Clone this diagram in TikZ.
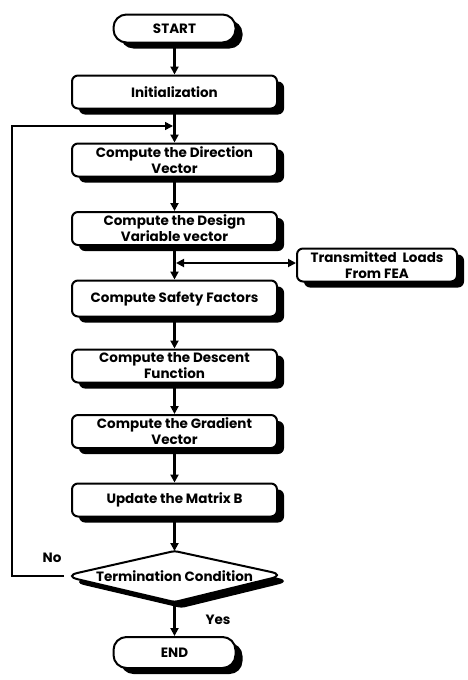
\documentclass[tikz,border=0pt]{standalone}
\usepackage{fontspec}
\setmainfont{Poppins}
\usetikzlibrary{shapes.geometric,shadows,arrows.meta}
\newcommand\fcfont{\fontsize{13.5}{16}\selectfont\bfseries}
\begin{document}
\begin{tikzpicture}[x=1pt,y=-1pt,
  shad/.style={drop shadow={shadow xshift=7pt, shadow yshift=-6pt, opacity=1, fill=black}},
  box/.style={draw, line width=2pt, rounded corners=6pt, fill=white, shad,
    minimum width=205pt, minimum height=33pt, align=center, font=\fcfont, inner sep=1pt},
  term/.style={box, minimum width=122pt, minimum height=28pt, rounded corners=13pt},
  decline/.style={draw, line width=2pt, fill=white, shad},
  arr/.style={-{Triangle[length=8pt,width=8pt]}, line width=2.4pt},
  loop/.style={-{Triangle[length=8pt,width=8pt]}, line width=1.6pt},
  lbl/.style={font=\fcfont}
]
\useasboundingbox (0,0) rectangle (467,680);
\node[term] (start) at (174.5,28.5) {START};
\node[box] (init) at (174.5,92) {Initialization};
\node[box] (dir) at (174.5,160) {Compute the Direction\\Vector};
\node[box] (des) at (174.5,228.5) {Compute the Design\\Variable vector};
\node[box, minimum width=160pt] (trans) at (377,265) {Transmitted~ Loads\\From FEA};
\node[box, minimum height=36pt] (saf) at (174.5,298.5) {Compute Safety Factors};
\node[box] (desc) at (174.5,366) {Compute the Descent\\Function};
\node[box] (grad) at (174.5,431.5) {Compute the Gradient\\Vector};
\node[box] (upd) at (174.5,500) {Update the Matrix B};
% decision shape
\coordinate (ttop) at (174.5,551);
\coordinate (tleft) at (64,576);
\coordinate (tright) at (285,575);
\coordinate (tbot) at (174.5,602);
\path[decline] (tleft) [rounded corners=3pt] -- (ttop) [rounded corners=14pt] -- (tright) [rounded corners=3pt] -- (tbot) [rounded corners=14pt] -- cycle;
\node[font=\fcfont, inner sep=0pt] (term) at (174.5,576) {Termination Condition};
\node[term, minimum height=31pt] (end) at (174.5,652.5) {END};
\coordinate (loopin) at (173,126);
\coordinate (tj) at (176,263);
\node[lbl] (no) at (52,558) {No};
\node[lbl] (yes) at (218,620) {Yes};

\draw[arr] (start) -- (init);
\draw[arr] (init) -- (dir);
\draw[arr] (dir) -- (des);
\draw[arr] (des) -- (saf);
\draw[arr] (saf) -- (desc);
\draw[arr] (desc) -- (grad);
\draw[arr] (grad) -- (upd);
\draw[arr] (upd) -- (ttop);
\draw[arr] (tbot) -- (end);
\draw[loop] (tleft) -- ++(-52,0) |- (loopin);
\draw[{Triangle[length=8pt,width=8pt]}-{Triangle[length=8pt,width=8pt]}, line width=1.8pt] (tj) -- (trans.west |- tj);
\end{tikzpicture}
\end{document}
